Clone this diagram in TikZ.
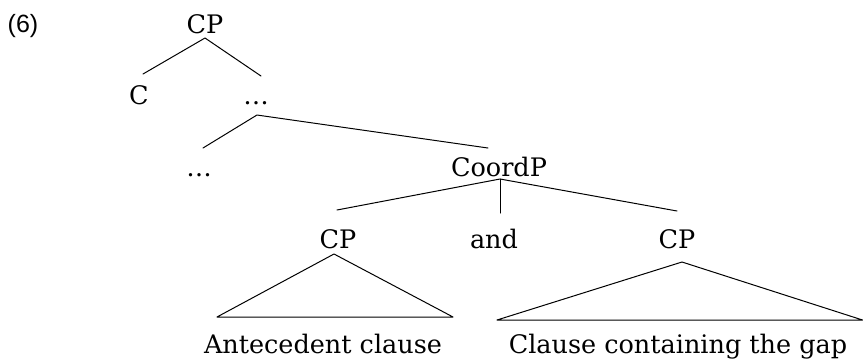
\documentclass[tikz,border=0pt]{standalone}
\usepackage{fontspec}
\setmainfont{DejaVu Serif}
\newfontfamily\exnum{Liberation Sans}
\begin{document}
\begin{tikzpicture}[x=1pt,y=-1pt,
  lbl/.style={inner sep=0pt,anchor=base,font=\fontsize{25.5}{28}\selectfont},
  branch/.style={line width=1pt,line cap=round,line join=round}]
\useasboundingbox (0,0) rectangle (863,360);
% example number
\node[inner sep=0pt,anchor=base,font=\exnum\fontsize{25}{28}\selectfont] (num) at (23,32) {(6)};
% labels (positioned by baseline)
\node[lbl] (cp0)   at (205,33)    {CP};
\node[lbl] (c)     at (139,104)   {C};
\node[lbl] (dotsA) at (256,104.5) {…};
\node[lbl] (dotsB) at (199,176.5) {…};
\node[lbl] (coord) at (499,176)   {CoordP};
\node[lbl] (cpL)   at (338,248)   {CP};
\node[lbl] (and)   at (494,248)   {and};
\node[lbl] (cpR)   at (677,248)   {CP};
\node[lbl] (antec) at (323,353.5) {Antecedent clause};
\node[lbl] (gapcl) at (678,353.5) {Clause containing the gap};
% branch end points
\coordinate (cp0-b)   at (205,38);
\coordinate (c-t)     at (143,74);
\coordinate (dotsA-t) at (261,76);
\coordinate (dotsA-b) at (257,115);
\coordinate (dotsB-t) at (203,148);
\coordinate (coord-t) at (488,148);
\coordinate (coord-b) at (500,179);
\coordinate (cpL-t)   at (337,210);
\coordinate (and-t)   at (500,213);
\coordinate (cpR-t)   at (677,211);
% branches
\draw[branch] (c-t) -- (cp0-b) -- (dotsA-t);
\draw[branch] (dotsB-t) -- (dotsA-b) -- (coord-t);
\draw[branch] (cpL-t) -- (coord-b) -- (cpR-t);
\draw[branch] (coord-b) -- (and-t);
% triangles under the two conjuncts
\coordinate (triL) at (334,254);
\coordinate (triR) at (682,262);
\draw[branch] (triL) -- (453,317) -- (217,317) -- cycle;
\draw[branch] (triR) -- (862.5,320) -- (497,320) -- cycle;
\end{tikzpicture}
\end{document}
